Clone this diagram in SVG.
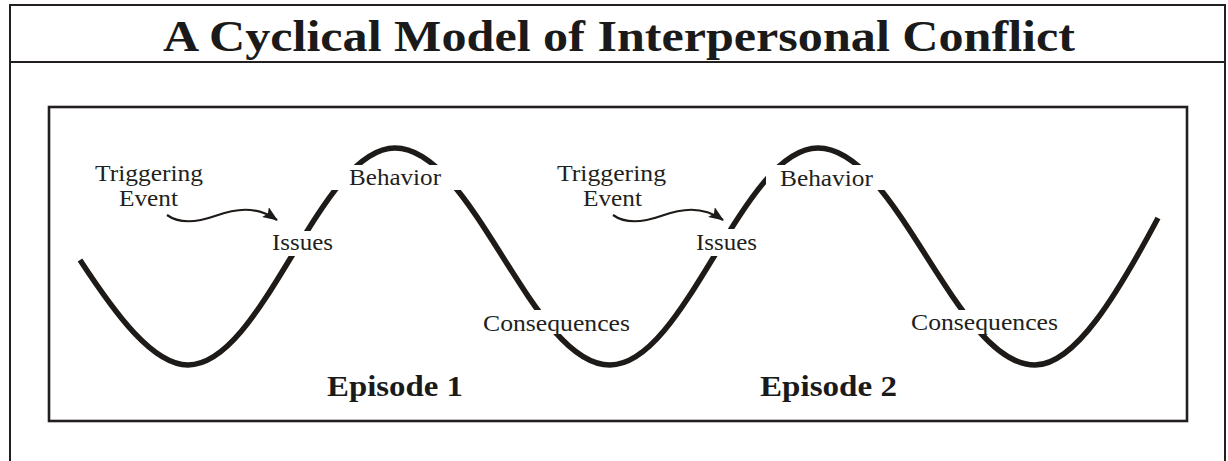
<svg xmlns="http://www.w3.org/2000/svg" width="1228" height="461" viewBox="0 0 1228 461">
  <style>
    .frame { fill: none; stroke: #231f20; stroke-width: 2; }
    .box { fill: none; stroke: #231f20; stroke-width: 2.6; }
    .wave { fill: none; stroke: #1e1a18; stroke-width: 5.5; }
    .lbl { font-family: "Liberation Serif", "Times New Roman", serif; font-size: 24px; fill: #231f20; }
    .ep { font-family: "Liberation Serif", "Times New Roman", serif; font-size: 29px; font-weight: bold; fill: #1a1a1a; }
    .title { font-family: "Liberation Serif", "Times New Roman", serif; font-size: 44px; font-weight: bold; fill: #1a1a1a; }
    .arrow { fill: none; stroke: #1e1a18; stroke-width: 2.2; }
  </style>
  <defs>
    <marker id="head" viewBox="0 0 15 12" refX="14" refY="6" markerWidth="15" markerHeight="12" markerUnits="userSpaceOnUse" orient="auto">
      <path d="M0,0 L15,6 L0,12 L3,6 z" fill="#1e1a18"/>
    </marker>
    <mask id="gaps" maskUnits="userSpaceOnUse" x="0" y="0" width="1228" height="461">
      <rect x="0" y="0" width="1228" height="461" fill="#fff"/>
      <rect x="268" y="231" width="70" height="25" fill="#000"/>
      <rect x="322" y="165" width="148" height="25" fill="#000"/>
      <rect x="470" y="310" width="170" height="24" fill="#000"/>
      <rect x="690" y="229" width="70" height="27" fill="#000"/>
      <rect x="766" y="165" width="126" height="25" fill="#000"/>
      <rect x="900" y="310" width="170" height="24" fill="#000"/>
    </mask>
  </defs>

  <rect width="1228" height="461" fill="#fff"/>

  <g id="frame">
    <rect class="frame" x="10" y="5" width="1215" height="520"/>
    <line class="frame" x1="10" y1="62" x2="1225" y2="62"/>
  </g>

  <g id="title">
    <text class="title" x="163" y="51" textLength="912" lengthAdjust="spacingAndGlyphs">A Cyclical Model of Interpersonal Conflict</text>
  </g>

  <g id="panel">
    <rect class="box" x="49" y="107" width="1138" height="314"/>
  </g>

  <g id="wave">
    <path class="wave" mask="url(#gaps)" d="M80,260 C115.2,313.8 152.7,365 188,365 C263.3,365 319.7,148 395,148 C473.3,148 531.7,365 610,365 C685.7,365 742.3,148 818,148 C897,148 956,365 1035,365 C1075.2,365 1117.9,293.3 1158,218"/>
  </g>

  <g id="connectors">
    <path class="arrow" marker-end="url(#head)" d="M167,215 C178,223 195,223 215,216 C235,209 255,205 277,220"/>
    <path class="arrow" marker-end="url(#head)" d="M613,215 C624,223 641,223 661,216 C681,209 701,205 723,220"/>
  </g>

  <g id="node-triggering-1">
    <text class="lbl" x="95" y="181" textLength="108" lengthAdjust="spacingAndGlyphs">Triggering</text>
    <text class="lbl" x="119" y="206" textLength="59" lengthAdjust="spacingAndGlyphs">Event</text>
  </g>
  <g id="node-issues-1">
    <text class="lbl" x="272" y="250" textLength="61" lengthAdjust="spacingAndGlyphs">Issues</text>
  </g>
  <g id="node-behavior-1">
    <text class="lbl" x="349" y="185" textLength="92" lengthAdjust="spacingAndGlyphs">Behavior</text>
  </g>
  <g id="node-consequences-1">
    <text class="lbl" x="483" y="331" textLength="147" lengthAdjust="spacingAndGlyphs">Consequences</text>
  </g>
  <g id="node-episode-1">
    <text class="ep" x="327" y="396" textLength="136" lengthAdjust="spacingAndGlyphs">Episode 1</text>
  </g>

  <g id="node-triggering-2">
    <text class="lbl" x="557" y="181" textLength="109" lengthAdjust="spacingAndGlyphs">Triggering</text>
    <text class="lbl" x="583" y="206" textLength="59" lengthAdjust="spacingAndGlyphs">Event</text>
  </g>
  <g id="node-issues-2">
    <text class="lbl" x="696" y="250" textLength="61" lengthAdjust="spacingAndGlyphs">Issues</text>
  </g>
  <g id="node-behavior-2">
    <text class="lbl" x="780" y="186" textLength="93" lengthAdjust="spacingAndGlyphs">Behavior</text>
  </g>
  <g id="node-consequences-2">
    <text class="lbl" x="911" y="330" textLength="147" lengthAdjust="spacingAndGlyphs">Consequences</text>
  </g>
  <g id="node-episode-2">
    <text class="ep" x="760" y="396" textLength="137" lengthAdjust="spacingAndGlyphs">Episode 2</text>
  </g>
</svg>
